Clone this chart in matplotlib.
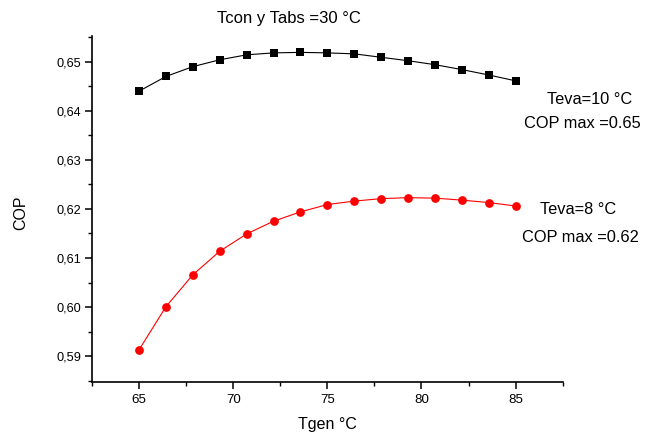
import matplotlib
matplotlib.use("Agg")
import matplotlib.pyplot as plt
import numpy as np
from matplotlib.ticker import FixedLocator, MultipleLocator, FuncFormatter

plt.rcParams['font.family'] = ['Liberation Sans', 'DejaVu Sans']

tgen = [65.0, 66.43, 67.86, 69.29, 70.71, 72.14, 73.57, 75.0,
        76.43, 77.86, 79.29, 80.71, 82.14, 83.57, 85.0]
cop_teva10 = [0.6440, 0.6470, 0.6490, 0.6504, 0.6514, 0.6518, 0.6519, 0.6518,
              0.6516, 0.6509, 0.6502, 0.6494, 0.6484, 0.6473, 0.6461]
cop_teva8 = [0.5913, 0.6001, 0.6066, 0.6114, 0.6149, 0.6175, 0.6194, 0.6209,
             0.6216, 0.6221, 0.6223, 0.6222, 0.6218, 0.6213, 0.6206]
x_ticks = [65, 70, 75, 80, 85]
y_ticks = [0.59, 0.60, 0.61, 0.62, 0.63, 0.64, 0.65]

title = "Tcon y Tabs =30 °C"
xlabel = "Tgen °C"
ylabel = "COP"
ann10 = ["Teva=10 °C", "COP max =0.65"]
ann8 = ["Teva=8 °C", "COP max =0.62"]

W, H = 645, 437
fig = plt.figure(figsize=(W / 100, H / 100), dpi=100)
ax = fig.add_axes([92 / W, 1 - 381.7 / H, (562.7 - 92) / W, (381.7 - 35.7) / H])

ax.plot(tgen, cop_teva10, color='black', lw=0.8, marker='s', ms=5.2,
        markeredgewidth=0)
ax.plot(tgen, cop_teva8, color='#ff0000', lw=0.8, marker='o', ms=6.3,
        markeredgewidth=0)

ax.set_xlim(62.5, 87.5)
ax.set_ylim(0.5848, 0.6553)
ax.xaxis.set_major_locator(FixedLocator(x_ticks))
ax.xaxis.set_minor_locator(MultipleLocator(2.5))
ax.yaxis.set_major_locator(FixedLocator(y_ticks))
ax.yaxis.set_minor_locator(MultipleLocator(0.005))
ax.yaxis.set_major_formatter(FuncFormatter(lambda v, p: f"{v:.2f}".replace('.', ',')))

for s in ['top', 'right']:
    ax.spines[s].set_visible(False)
for s in ['left', 'bottom']:
    ax.spines[s].set_linewidth(1.2)

ax.tick_params(axis='both', which='major', direction='out', length=5, width=1.1,
               pad=3)
ax.tick_params(axis='y', which='major', labelsize=9.2)
ax.tick_params(axis='x', which='major', labelsize=9.6, pad=4)
ax.tick_params(axis='both', which='minor', direction='out', length=3, width=1.0)

fig.text(327.5 / W, 1 - 424 / H, xlabel, fontsize=11.5, ha='center', va='center')
fig.text(21 / W, 1 - 213 / H, ylabel, fontsize=11.5, ha='center', va='center',
         rotation=90)
fig.text(289 / W, 1 - 18 / H, title, fontsize=12, ha='center', va='center')

fig.text(590 / W, 1 - 99 / H, ann10[0], fontsize=11.8, ha='center', va='center')
fig.text(582 / W, 1 - 123 / H, ann10[1], fontsize=11.8, ha='center', va='center')
fig.text(578 / W, 1 - 209 / H, ann8[0], fontsize=11.8, ha='center', va='center')
fig.text(580 / W, 1 - 237 / H, ann8[1], fontsize=11.8, ha='center', va='center')

fig.savefig("out.png", dpi=100)
